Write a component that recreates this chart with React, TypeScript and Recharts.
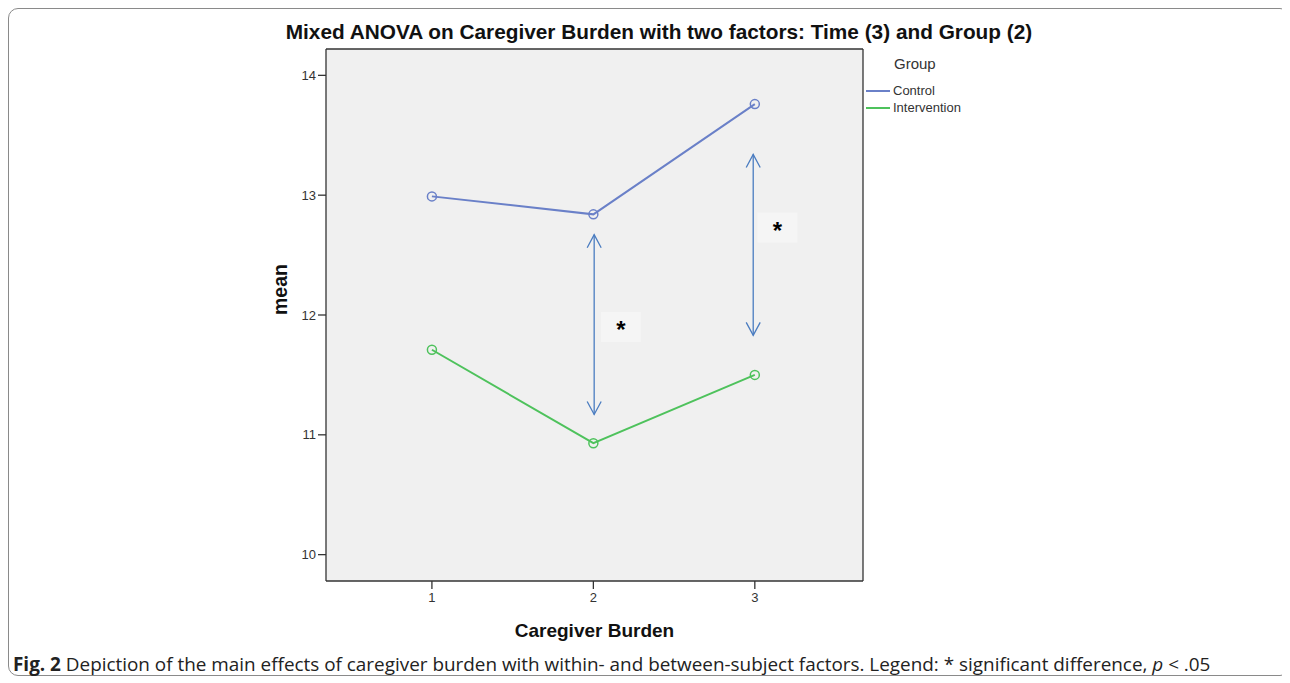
import React from "react";
import {
  LineChart,
  Line,
  XAxis,
  YAxis,
  CartesianGrid,
  ReferenceLine,
  ReferenceDot,
} from "recharts";

const timePoints = [1, 2, 3];
const controlMeans = [12.99, 12.84, 13.76];
const interventionMeans = [11.71, 10.93, 11.5];
const yTicks = [10, 11, 12, 13, 14];
const groups = ["Control", "Intervention"];
const groupColors = ["#6a80c8", "#4ec25c"];

// significance arrows: [x, yFrom, yTo]
const arrows = [
  [2.005, 12.67, 11.17],
  [2.99, 13.34, 11.83],
];
const stars = [
  [2.17, 11.9],
  [3.14, 12.73],
];

const data = timePoints.map((t, i) => ({
  time: t,
  control: controlMeans[i],
  intervention: interventionMeans[i],
}));

const ARROW = "#4a7cc0";
const FONT = "'Liberation Sans', Arial, sans-serif";

const ArrowShape = (props: any) => {
  const { x1, y1, x2, y2 } = props;
  if (x1 == null) return null;
  const w = 7;
  const h = 13;
  return (
    <g stroke={ARROW} strokeWidth={1.3} fill="none">
      <line x1={x1} y1={y1} x2={x2} y2={y2} />
      <polyline points={`${x1 - w},${y1 + h} ${x1},${y1} ${x1 + w},${y1 + h}`} />
      <polyline points={`${x2 - w},${y2 - h} ${x2},${y2} ${x2 + w},${y2 - h}`} />
    </g>
  );
};

const StarShape = (props: any) => {
  const { cx, cy } = props;
  if (cx == null) return null;
  return (
    <g>
      <rect x={cx - 20} y={cy - 15} width={40} height={30} fill="#f5f5f5" />
      <text
        x={cx}
        y={cy + 11}
        textAnchor="middle"
        fontSize={24}
        fontFamily={FONT}
        fontWeight="bold"
        fill="#000"
      >
        *
      </text>
    </g>
  );
};

export default function App() {
  return (
    <div
      style={{
        position: "relative",
        width: 1280,
        height: 666,
        border: "1px solid #8a8a8a",
        borderRadius: 10,
        background: "#fff",
      }}
    >
      <div
        style={{
          position: "absolute",
          top: 11,
          left: 0,
          width: 1300,
          textAlign: "center",
          fontFamily: FONT,
          fontWeight: "bold",
          fontSize: 20.8,
          color: "#111",
        }}
      >
        Mixed ANOVA on Caregiver Burden with two factors: Time (3) and Group (2)
      </div>
      <div style={{ position: "absolute", left: 857, top: 46, fontFamily: FONT, color: "#333" }}>
        <div style={{ fontSize: 15, marginLeft: 28, marginBottom: 10 }}>Group</div>
        {groups.map((name, i) => (
          <div key={name} style={{ display: "flex", alignItems: "center", fontSize: 13, height: 17 }}>
            <span
              style={{ display: "inline-block", width: 24, height: 2, background: groupColors[i], marginRight: 3 }}
            />
            {name}
          </div>
        ))}
      </div>
      <LineChart
        width={1280}
        height={640}
        data={data}
        margin={{ top: 40, right: 426, bottom: 8, left: 257 }}
      >
        <CartesianGrid
          fill="#f0f0f0"
          stroke="#333"
          strokeWidth={1.3}
          horizontalCoordinatesGenerator={({ offset }: any) => [offset.top]}
          verticalCoordinatesGenerator={({ offset }: any) => [offset.left + offset.width]}
        />
        <XAxis
          dataKey="time"
          type="number"
          domain={[0.344, 3.67]}
          ticks={timePoints}
          allowDataOverflow
          stroke="#333"
          strokeWidth={1.3}
          tick={{ fill: "#333", fontSize: 13, fontFamily: FONT, dy: 2 }}
          tickSize={8}
          height={60}
          label={{
            value: "Caregiver Burden",
            position: "insideBottom",
            offset: 4,
            fill: "#111",
            fontSize: 19,
            fontWeight: "bold",
            fontFamily: FONT,
          }}
        />
        <YAxis
          type="number"
          domain={[9.78, 14.22]}
          ticks={yTicks}
          allowDataOverflow
          stroke="#333"
          strokeWidth={1.3}
          tick={{ fill: "#333", fontSize: 13, fontFamily: FONT }}
          tickSize={8}
          width={60}
          label={{
            value: "mean",
            angle: -90,
            position: "insideLeft",
            offset: 14,
            fill: "#111",
            fontSize: 19.5,
            fontWeight: "bold",
            fontFamily: FONT,
          }}
        />
        <Line
          dataKey="control"
          stroke={groupColors[0]}
          strokeWidth={2}
          dot={{ r: 4.5, fill: "none", stroke: groupColors[0], strokeWidth: 1.5 }}
          isAnimationActive={false}
        />
        <Line
          dataKey="intervention"
          stroke={groupColors[1]}
          strokeWidth={2}
          dot={{ r: 4.5, fill: "none", stroke: groupColors[1], strokeWidth: 1.5 }}
          isAnimationActive={false}
        />
        {arrows.map(([x, a, b], i) => (
          <ReferenceLine
            key={`arr-${i}`}
            segment={[
              { x, y: a },
              { x, y: b },
            ]}
            shape={ArrowShape}
          />
        ))}
        {stars.map(([x, y], i) => (
          <ReferenceDot key={`star-${i}`} x={x} y={y} r={1} shape={StarShape} />
        ))}
      </LineChart>
      <div
        style={{
          position: "absolute",
          left: 4,
          top: 645,
          fontFamily: "'Open Sans', sans-serif",
          fontSize: 18.9,
          lineHeight: "20px",
          color: "#222",
          whiteSpace: "nowrap",
        }}
      >
        <b>Fig. 2</b> Depiction of the main effects of caregiver burden with within- and between-subject factors. Legend: * significant difference, <i>p</i> &lt; .05
      </div>
    </div>
  );
}
